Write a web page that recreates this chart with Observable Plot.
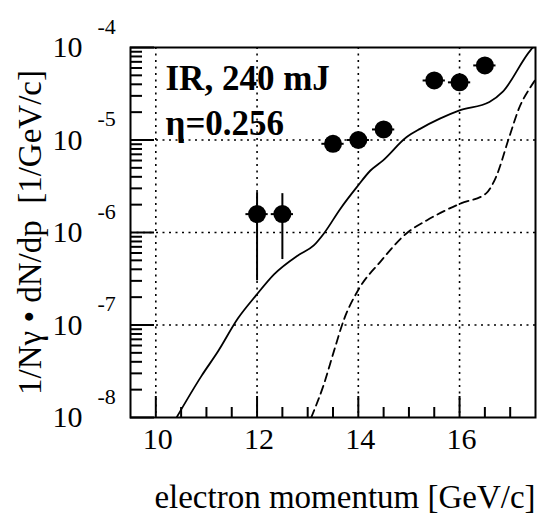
<!DOCTYPE html>
<html><head><meta charset="utf-8">
<script src="https://cdn.jsdelivr.net/npm/d3@7"></script>
<script src="https://cdn.jsdelivr.net/npm/@observablehq/plot@0.6"></script>
<style>body{margin:0;background:#fff}</style>
</head><body><div id="chart"></div>
<script>
// ---- tick definitions ----
const xMajorTicks = [10, 12, 14, 16];
const xTickLabels = ["10", "12", "14", "16"];
const xMinorTicks = [10.5, 11, 11.5, 12.5, 13, 13.5, 14.5, 15, 15.5, 16.5, 17];
const xGridValues = [10, 12, 14, 16];
const yDecades = [1e-8, 1e-7, 1e-6, 1e-5, 1e-4];
const yExponents = ["-8", "-7", "-6", "-5", "-4"];
const yGridValues = [1e-7, 1e-6, 1e-5];
const yMinorMultipliers = [2, 3, 4, 5, 6, 7, 8, 9];

// ---- measured data points ----
const dataMomentum = [12, 12.5, 13.5, 14, 14.5, 15.5, 16, 16.5];
const dataValue    = [1.58e-6, 1.58e-6, 9.1e-6, 1.0e-5, 1.3e-5, 4.4e-5, 4.2e-5, 6.4e-5];
const dataErrLow   = [3.0e-7, 5.1e-7, 8.5e-6, 9.1e-6, 1.21e-5, 4.15e-5, 3.95e-5, 6.05e-5];
const dataErrHigh  = [2.7e-6, 2.63e-6, 9.7e-6, 1.1e-5, 1.39e-5, 4.65e-5, 4.45e-5, 6.75e-5];
const dataHalfBin  = [0.22, 0.22, 0.22, 0.22, 0.22, 0.22, 0.22, 0.22];

// ---- solid curve ----
const solidMomentum = [10.41, 10.9, 11.23, 11.62, 11.98, 12.34, 12.8, 13.12, 13.32, 13.65, 13.97, 14.24, 14.49, 14.95, 15.22, 15.61, 16.0, 16.59, 16.85, 17.4, 17.45];
const solidValue    = [1e-8, 2.8e-8, 5.2e-8, 1.175e-7, 2.09e-7, 3.55e-7, 5.62e-7, 7.24e-7, 9.77e-7, 1.82e-6, 3.09e-6, 4.68e-6, 6.03e-6, 1.07e-5, 1.32e-5, 1.7e-5, 2.09e-5, 2.57e-5, 3.31e-5, 9.33e-5, 1.0e-4];

// ---- dashed curve ----
const dashMomentum = [13.07, 13.32, 13.52, 13.71, 14.01, 14.43, 14.95, 15.35, 16.0, 16.52, 16.72, 16.98, 17.18, 17.4, 17.5];
const dashValue    = [1e-8, 2.29e-8, 5.25e-8, 1.12e-7, 2.45e-7, 4.79e-7, 9.77e-7, 1.35e-6, 2.04e-6, 2.63e-6, 3.98e-6, 1.07e-5, 2.24e-5, 3.72e-5, 4.5e-5];

const annotationLine1 = "IR, 240 mJ";
const annotationLine2 = "η=0.256";
const xTitle = "electron momentum [GeV/c]";
const yTitle = "1/Nγ • dN/dp  [1/GeV/c]";

// ---- layout ----
const W = 537, H = 514, ML = 130, MR = 2, MT = 47, MB = 97;
const frameW = W - ML - MR, frameH = H - MT - MB;
const xDomain = [9.5, 17.5], yDomain = [1e-8, 1e-4];

// pixel tick lengths converted through the scales' linear/log spans
const xPerPx = (xDomain[1] - xDomain[0]) / frameW;
const decadesPerPx = Math.log10(yDomain[1] / yDomain[0]) / frameH;
const xTickEnd = px => xDomain[0] + px * xPerPx;
const yTickEnd = px => yDomain[0] * Math.pow(10, px * decadesPerPx);

// ---- build tables ----
const points = dataMomentum.map((p, i) => ({p, v: dataValue[i], lo: dataErrLow[i], hi: dataErrHigh[i], dx: dataHalfBin[i]}));
const solid = solidMomentum.map((p, i) => ({p, v: solidValue[i]}));
const dashed = dashMomentum.map((p, i) => ({p, v: dashValue[i]}));
const xLabels = xMajorTicks.map((t, i) => ({t, label: xTickLabels[i]}));
const yLabels = yDecades.map((t, i) => ({t, e: yExponents[i]}));
const yMinor = yDecades.slice(0, -1).flatMap(d => yMinorMultipliers.map(m => d * m));

const chart = Plot.plot({
  width: W,
  height: H,
  marginLeft: ML,
  marginRight: MR,
  marginTop: MT,
  marginBottom: MB,
  style: {fontFamily: "'Liberation Serif', 'Times New Roman', serif", background: "#fff", color: "#000"},
  x: {domain: xDomain, axis: null},
  y: {type: "log", domain: yDomain, axis: null},
  marks: [
    // grid
    Plot.ruleX(xGridValues, {stroke: "#000", strokeWidth: 1.6, strokeDasharray: "2,4.5"}),
    Plot.ruleY(yGridValues, {stroke: "#000", strokeWidth: 1.6, strokeDasharray: "2,4.5"}),
    // ticks (inward)
    Plot.ruleX(xMajorTicks, {x: d => d, y1: yDomain[0], y2: yTickEnd(21), stroke: "#000", strokeWidth: 2}),
    Plot.ruleX(xMinorTicks, {x: d => d, y1: yDomain[0], y2: yTickEnd(10), stroke: "#000", strokeWidth: 2}),
    Plot.ruleY(yDecades, {y: d => d, x1: xDomain[0], x2: xTickEnd(24), stroke: "#000", strokeWidth: 2}),
    Plot.ruleY(yMinor, {y: d => d, x1: xDomain[0], x2: xTickEnd(12), stroke: "#000", strokeWidth: 2}),
    // curves
    Plot.line(solid, {x: "p", y: "v", curve: "monotone-x", stroke: "#000", strokeWidth: 1.8, clip: true}),
    Plot.line(dashed, {x: "p", y: "v", curve: "monotone-x", stroke: "#000", strokeWidth: 1.8, strokeDasharray: "8,5", clip: true}),
    // data
    Plot.ruleX(points, {x: "p", y1: "lo", y2: "hi", stroke: "#000", strokeWidth: 2}),
    Plot.ruleY(points, {y: "v", x1: d => d.p - d.dx, x2: d => d.p + d.dx, stroke: "#000", strokeWidth: 2}),
    Plot.dot(points, {x: "p", y: "v", r: 9, fill: "#000", stroke: "none"}),
    // frame
    Plot.frame({stroke: "#000", strokeWidth: 2}),
    // x tick labels
    Plot.text(xLabels, {x: "t", text: "label", frameAnchor: "bottom", dy: 31, lineAnchor: "bottom", textAnchor: "middle", dx: 2, fontSize: 30}),
    // y tick labels
    Plot.text(yLabels, {y: "t", text: () => "10", frameAnchor: "left", dx: -48, textAnchor: "end", lineAnchor: "middle", fontSize: 30}),
    Plot.text(yLabels, {y: "t", text: "e", frameAnchor: "left", dx: -33, dy: -21, textAnchor: "start", lineAnchor: "middle", fontSize: 22}),
    // annotations
    Plot.text([annotationLine1], {text: d => d, frameAnchor: "top-left", dx: 35, dy: 42, textAnchor: "start", lineAnchor: "bottom", fontSize: 35, fontWeight: "bold"}),
    Plot.text([annotationLine2], {text: d => d, frameAnchor: "top-left", dx: 35, dy: 87, textAnchor: "start", lineAnchor: "bottom", fontSize: 35, fontWeight: "bold"}),
    // axis titles
    Plot.text([xTitle], {text: d => d, frameAnchor: "bottom", dx: 12, dy: 90, textAnchor: "middle", lineAnchor: "bottom", fontSize: 33}),
    Plot.text([yTitle], {text: d => d, frameAnchor: "left", dx: -100, rotate: -90, textAnchor: "middle", lineAnchor: "middle", fontSize: 33})
  ]
});
document.getElementById("chart").appendChild(chart);
</script>
</body></html>
